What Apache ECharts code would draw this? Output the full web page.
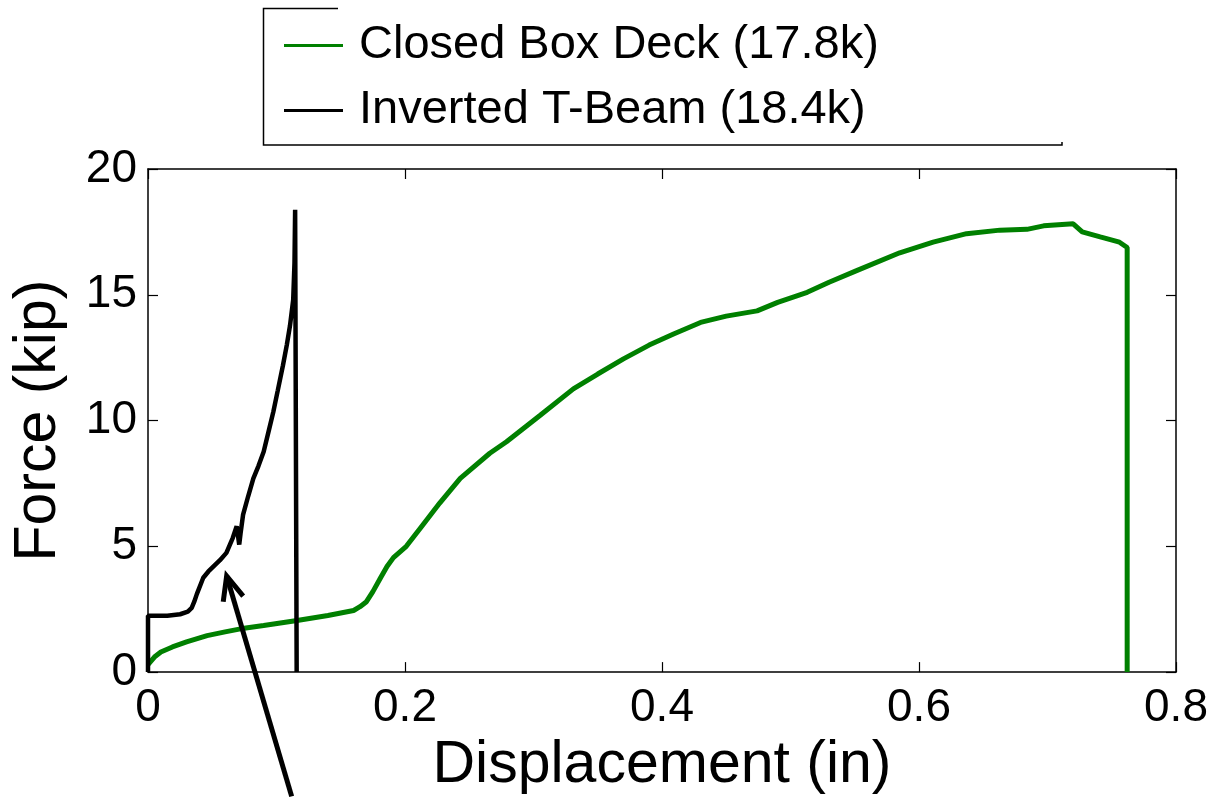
<!DOCTYPE html>
<html>
<head>
<meta charset="utf-8">
<script src="https://cdn.jsdelivr.net/npm/echarts@6/dist/echarts.min.js"></script>
<style>
html,body{margin:0;padding:0;background:#fff;}
#chart{width:1228px;height:800px;}
</style>
</head>
<body>
<div id="chart"></div>
<script>
// ---- data ----
const seriesNames = ['Closed Box Deck (17.8k)', 'Inverted T-Beam (18.4k)'];
const xTicks = [0, 0.2, 0.4, 0.6, 0.8];
const yTicks = [0, 5, 10, 15, 20];

// Closed Box Deck: displacement (in), force (kip)
const boxDisp = [0, 0.005, 0.01, 0.019, 0.03, 0.046, 0.06, 0.072, 0.09, 0.116, 0.14, 0.16, 0.165, 0.17, 0.175, 0.181, 0.186, 0.191, 0.201, 0.214, 0.227, 0.243, 0.266, 0.279, 0.305, 0.331, 0.35, 0.37, 0.39, 0.409, 0.43, 0.45, 0.474, 0.49, 0.513, 0.53, 0.551, 0.585, 0.611, 0.637, 0.663, 0.684, 0.697, 0.72, 0.727, 0.741, 0.756, 0.762, 0.762];
const boxForce = [0.3, 0.6, 0.8, 1.0, 1.2, 1.45, 1.6, 1.72, 1.85, 2.05, 2.25, 2.45, 2.6, 2.8, 3.2, 3.75, 4.2, 4.55, 5.0, 5.86, 6.72, 7.7, 8.7, 9.16, 10.2, 11.26, 11.85, 12.45, 13.0, 13.44, 13.9, 14.15, 14.36, 14.7, 15.1, 15.5, 15.95, 16.67, 17.09, 17.43, 17.57, 17.6, 17.74, 17.82, 17.5, 17.3, 17.09, 16.88, 0];

// Inverted T-Beam: displacement (in), force (kip)
const tbeamDisp = [0, 0, 0.015, 0.025, 0.031, 0.034, 0.036, 0.038, 0.043, 0.047, 0.051, 0.056, 0.061, 0.064, 0.066, 0.069, 0.071, 0.072, 0.074, 0.078, 0.082, 0.086, 0.09, 0.094, 0.0975, 0.101, 0.105, 0.108, 0.1105, 0.113, 0.114, 0.1145, 0.1157, 0.1157];
const tbeamForce = [0, 2.24, 2.24, 2.3, 2.4, 2.55, 2.8, 3.1, 3.75, 4.0, 4.2, 4.45, 4.74, 5.1, 5.34, 5.8, 5.07, 5.5, 6.26, 7.0, 7.7, 8.2, 8.76, 9.6, 10.34, 11.2, 12.19, 13.0, 13.77, 14.8, 16.27, 18.38, 18.4, 0];

// annotation arrow (data coordinates): tail -> tip
const arrowTail = [0.1118, -4.94];
const arrowTip = [0.0612, 3.82];

const pairs = (xs, ys) => xs.map((x, i) => [x, ys[i]]);
const FONT = 'Liberation Sans, Arial, Helvetica, sans-serif';

const chart = echarts.init(document.getElementById('chart'), null, {renderer: 'canvas'});

const axisCommon = () => ({
  axisLine: {show: true, onZero: false, lineStyle: {color: '#000', width: 1.5}},
  axisTick: {show: true, inside: true, length: 10, lineStyle: {color: '#000', width: 1.2}},
  splitLine: {show: false}
});

const option = {
  animation: false,
  backgroundColor: '#fff',
  textStyle: {fontFamily: FONT},
  grid: {left: 148, right: 52, top: 169, bottom: 125, containLabel: false},
  legend: {
    data: seriesNames,
    orient: 'vertical',
    left: 279, top: 17,
    itemWidth: 59, itemHeight: 3,
    itemGap: 18,
    icon: 'path://M0,0 L59,0 L59,3 L0,3 Z',
    textStyle: {fontSize: 47, color: '#000', fontFamily: FONT, padding: [0, 0, 0, 11]},
    selectedMode: false
  },
  xAxis: [
    Object.assign({
      type: 'value', position: 'bottom', min: xTicks[0], max: xTicks[xTicks.length - 1], interval: 0.2,
      name: 'Displacement (in)', nameLocation: 'middle', nameGap: 44,
      nameTextStyle: {fontSize: 59, color: '#000', fontFamily: FONT},
      axisLabel: {fontSize: 46, color: '#000', margin: 13, fontFamily: FONT}
    }, axisCommon()),
    Object.assign({
      type: 'value', position: 'top', min: xTicks[0], max: xTicks[xTicks.length - 1], interval: 0.2,
      axisLabel: {show: false}
    }, axisCommon())
  ],
  yAxis: [
    Object.assign({
      type: 'value', position: 'left', min: yTicks[0], max: yTicks[yTicks.length - 1], interval: 5,
      name: 'Force (kip)', nameLocation: 'middle', nameRotate: 90, nameGap: 80,
      nameTextStyle: {fontSize: 59, color: '#000', fontFamily: FONT},
      axisLabel: {fontSize: 46, color: '#000', margin: 11, fontFamily: FONT}
    }, axisCommon()),
    Object.assign({
      type: 'value', position: 'right', min: yTicks[0], max: yTicks[yTicks.length - 1], interval: 5,
      axisLabel: {show: false}
    }, axisCommon())
  ],
  series: [
    {
      name: seriesNames[0], type: 'line', showSymbol: false, symbol: 'none',
      data: pairs(boxDisp, boxForce),
      lineStyle: {color: '#008000', width: 5}, itemStyle: {color: '#008000'},
      z: 3
    },
    {
      name: seriesNames[1], type: 'line', showSymbol: false, symbol: 'none',
      data: pairs(tbeamDisp, tbeamForce),
      lineStyle: {color: '#000000', width: 4.5}, itemStyle: {color: '#000000'},
      z: 4
    }
  ]
};

chart.setOption(option);

// decorations: partial legend frame and annotation arrow
const tail = chart.convertToPixel({gridIndex: 0}, arrowTail);
const tip = chart.convertToPixel({gridIndex: 0}, arrowTip);
const dx = tail[0] - tip[0], dy = tail[1] - tip[1];
const len = Math.sqrt(dx * dx + dy * dy);
const ux = dx / len, uy = dy / len;
const wing = (deg) => {
  const a = deg * Math.PI / 180;
  const rx = ux * Math.cos(a) - uy * Math.sin(a);
  const ry = ux * Math.sin(a) + uy * Math.cos(a);
  return [tip[0] + 26 * rx, tip[1] + 26 * ry];
};
const w1 = wing(24), w2 = wing(-23);

chart.setOption({
  graphic: [
    {type: 'polyline', z: 100, shape: {points: [[338, 8.5], [263.5, 8.5], [263.5, 145], [1062, 145], [1062, 142]]},
     style: {stroke: '#000', lineWidth: 1.5, fill: null}},
    {type: 'polyline', z: 100, shape: {points: [tail, tip]}, style: {stroke: '#000', lineWidth: 5, fill: null}},
    {type: 'polyline', z: 100, shape: {points: [w1, tip, w2]}, style: {stroke: '#000', lineWidth: 5, fill: null, lineJoin: 'miter'}}
  ]
});
</script>
</body>
</html>
